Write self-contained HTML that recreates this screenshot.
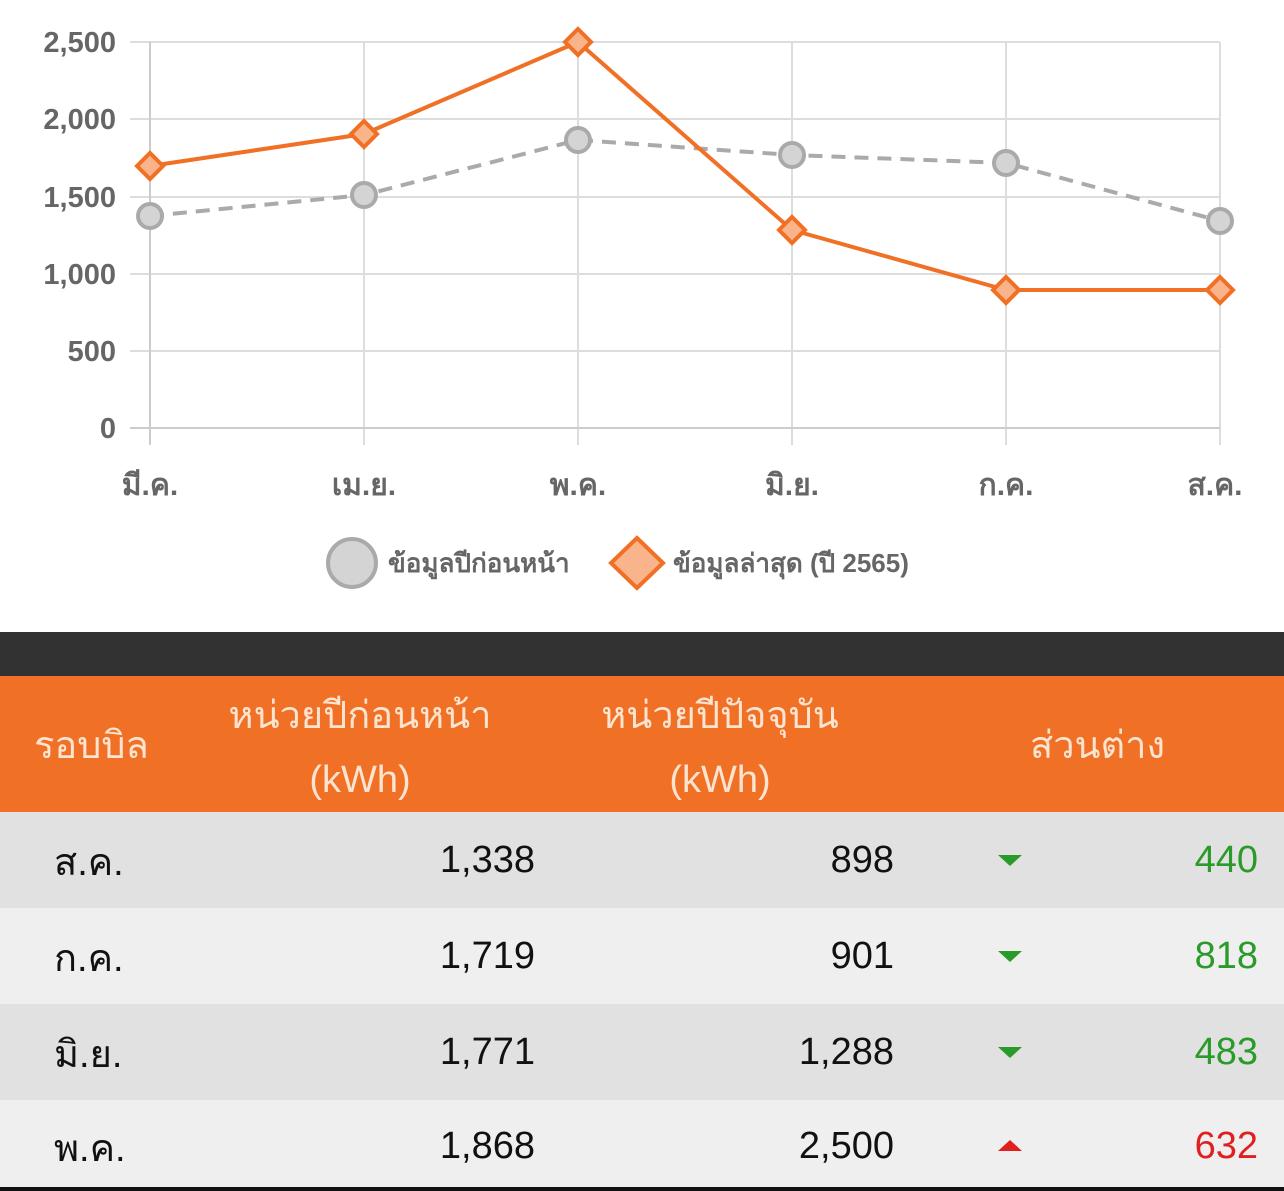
<!DOCTYPE html>
<html><head><meta charset="utf-8"><style>
body{margin:0;width:1284px;height:1191px;background:#fff;overflow:hidden;font-family:"Liberation Sans","Noto Sans CJK SC",sans-serif;}
.t{position:absolute;left:0;width:1284px}
.row{position:absolute;left:0;width:1284px;height:96px;font-size:38px;color:#111}
.row span{position:absolute;top:27px}
.row span.th{top:19px}
.dn{position:absolute;left:998px;top:43px;width:0;height:0;border-left:12px solid transparent;border-right:12px solid transparent;border-top:11px solid #2a9a2a}
.up{position:absolute;left:998px;top:40px;width:0;height:0;border-left:12px solid transparent;border-right:12px solid transparent;border-bottom:11px solid #e02020}
</style></head><body>
<svg width="1284" height="620" style="position:absolute;left:0;top:0" font-family="Liberation Sans, sans-serif">
<g stroke="#ddd" stroke-width="2">
<line x1="130" y1="42" x2="1220" y2="42"/><line x1="130" y1="119" x2="1220" y2="119"/><line x1="130" y1="197" x2="1220" y2="197"/><line x1="130" y1="274" x2="1220" y2="274"/><line x1="130" y1="351" x2="1220" y2="351"/>
<line x1="364" y1="42" x2="364" y2="445"/><line x1="578" y1="42" x2="578" y2="445"/><line x1="792" y1="42" x2="792" y2="445"/><line x1="1006" y1="42" x2="1006" y2="445"/><line x1="1220" y1="42" x2="1220" y2="445"/>
</g>
<line x1="130" y1="428" x2="1220" y2="428" stroke="#ccc" stroke-width="2"/>
<line x1="150" y1="42" x2="150" y2="445" stroke="#ccc" stroke-width="2"/>
<g font-size="29" font-weight="bold" fill="#666" text-anchor="end">
<text x="116" y="52">2,500</text><text x="116" y="129">2,000</text><text x="116" y="207">1,500</text><text x="116" y="284">1,000</text><text x="116" y="361">500</text><text x="116" y="438">0</text>
</g>
<g font-size="30" font-weight="bold" fill="#666" text-anchor="middle">
<text x="150" y="495">มี.ค.</text><text x="364" y="495">เม.ย.</text><text x="578" y="495">พ.ค.</text><text x="792" y="495">มิ.ย.</text><text x="1006" y="495">ก.ค.</text><text x="1215" y="495">ส.ค.</text>
</g>
<polyline points="150,216 364,195 578,140 792,155 1006,163 1220,221" fill="none" stroke="#aaa" stroke-width="4" stroke-dasharray="14,9"/>
<g fill="#d4d4d4" stroke="#aaa" stroke-width="4">
<circle cx="150" cy="216" r="12"/><circle cx="364" cy="195" r="12"/><circle cx="578" cy="140" r="12"/><circle cx="792" cy="155" r="12"/><circle cx="1006" cy="163" r="12"/><circle cx="1220" cy="221" r="12"/>
</g>
<polyline points="150,166 364,134 578,42 792,230 1006,290 1220,290" fill="none" stroke="#f07025" stroke-width="4"/>
<g fill="#f9b48c" stroke="#f07025" stroke-width="4">
<polygon points="150,153 163,166 150,179 137,166"/><polygon points="364,121 377,134 364,147 351,134"/><polygon points="578,29 591,42 578,55 565,42"/><polygon points="792,217 805,230 792,243 779,230"/><polygon points="1006,277 1019,290 1006,303 993,290"/><polygon points="1220,277 1233,290 1220,303 1207,290"/>
</g>
<circle cx="352" cy="563" r="24" fill="#d4d4d4" stroke="#aaa" stroke-width="4"/>
<polygon points="637,538 663,563 637,588 611,563" fill="#f9b48c" stroke="#f07025" stroke-width="4"/>
<g font-size="26" font-weight="bold" fill="#666">
<text x="388" y="572">ข้อมูลปีก่อนหน้า</text><text x="673" y="572">ข้อมูลล่าสุด (ปี 2565)</text>
</g>
</svg>
<div class="t" style="top:632px;height:44px;background:#323232"></div>
<div class="t" style="top:676px;height:136px;background:#f07025;color:#fde4d0;font-size:38px">
<span style="position:absolute;left:34px;top:38px">รอบบิล</span>
<span style="position:absolute;left:200px;width:320px;text-align:center;top:8px;line-height:64px">หน่วยปีก่อนหน้า<br>(kWh)</span>
<span style="position:absolute;left:560px;width:320px;text-align:center;top:8px;line-height:64px">หน่วยปีปัจจุบัน<br>(kWh)</span>
<span style="position:absolute;left:1030px;top:38px">ส่วนต่าง</span>
</div>
<div class="row" style="top:812px;background:#e1e1e1"><span class="th" style="left:54px">ส.ค.</span><span style="right:749px">1,338</span><span style="right:390px">898</span><div class="dn"></div><span style="right:26px;color:#2a9a2a">440</span></div>
<div class="row" style="top:908px;background:#efefef"><span class="th" style="left:54px">ก.ค.</span><span style="right:749px">1,719</span><span style="right:390px">901</span><div class="dn"></div><span style="right:26px;color:#2a9a2a">818</span></div>
<div class="row" style="top:1004px;background:#e1e1e1"><span class="th" style="left:54px">มิ.ย.</span><span style="right:749px">1,771</span><span style="right:390px">1,288</span><div class="dn"></div><span style="right:26px;color:#2a9a2a">483</span></div>
<div class="row" style="top:1100px;height:88px;background:#efefef"><span class="th" style="left:54px;top:17px">พ.ค.</span><span style="right:749px;top:25px">1,868</span><span style="right:390px;top:25px">2,500</span><div class="up" style="top:40px"></div><span style="right:26px;top:25px;color:#e02020">632</span></div>
<div class="t" style="top:1187px;height:4px;background:#111"></div>
</body></html>
